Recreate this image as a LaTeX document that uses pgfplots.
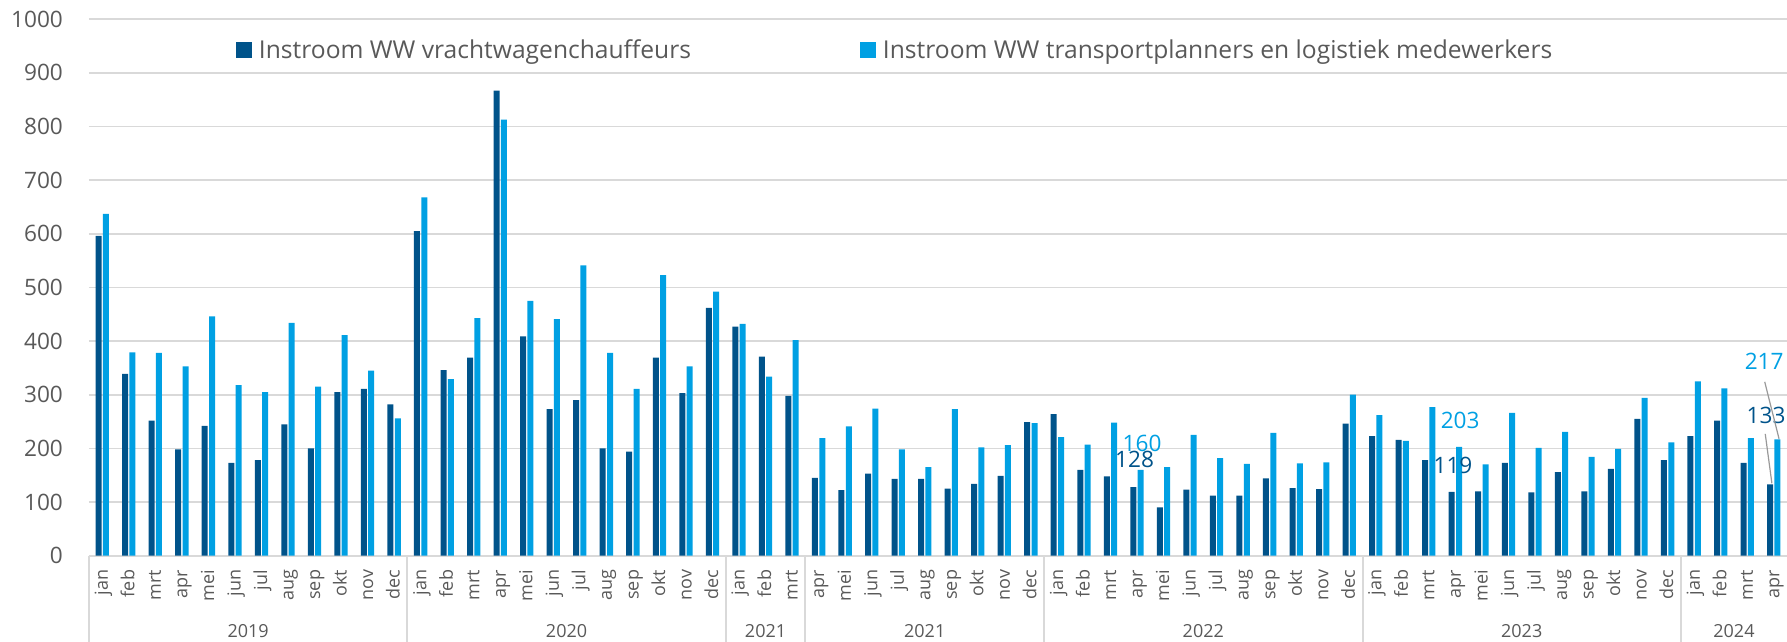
\documentclass[border=0pt]{standalone}
\usepackage{fontspec}
\setmainfont{Open Sans}
\usepackage{pgfplots}
\pgfplotsset{compat=1.18}
\definecolor{dblue}{RGB}{0,83,138}
\definecolor{lblue}{RGB}{0,160,227}
\definecolor{txt}{RGB}{89,89,89}
\definecolor{grd}{RGB}{217,217,217}
\newlength\legA
\newlength\legsep
\newcommand\legfont{\fontsize{12.3pt}{14pt}\selectfont}
\newcommand\numfont{\fontsize{11.3pt}{13pt}\selectfont}
\newcommand\catfont{\fontsize{9pt}{11pt}\selectfont}
\begin{document}
\settowidth\legA{\legfont Instroom WW vrachtwagenchauffeurs}%
\setlength\legsep{\dimexpr 312pt-11.5pt-\legA\relax}%
\begin{tikzpicture}
\begin{axis}[
  name=ax,
  width=849pt, height=268.25pt, scale only axis,
  xmin=-0.5, xmax=63.5, ymin=0, ymax=1000,
  ybar, bar width=3pt,
  clip=false,
  ytick={0,100,...,1000},
  xtick={0,...,63},
  xticklabels={jan,feb,mrt,apr,mei,jun,jul,aug,sep,okt,nov,dec,
               jan,feb,mrt,apr,mei,jun,jul,aug,sep,okt,nov,dec,
               jan,feb,mrt,
               apr,mei,jun,jul,aug,sep,okt,nov,dec,
               jan,feb,mrt,apr,mei,jun,jul,aug,sep,okt,nov,dec,
               jan,feb,mrt,apr,mei,jun,jul,aug,sep,okt,nov,dec,
               jan,feb,mrt,apr},
  /pgf/number format/assume math mode=true,
  /pgf/number format/1000 sep={},
  yticklabel style={font=\numfont, text=txt, inner sep=0pt, anchor=east},
  yticklabel shift=12.85pt,
  xticklabel style={font=\catfont, text=txt, inner sep=0pt, rotate=90, anchor=east, text height=1.4ex, text depth=0.35ex},
  xticklabel shift=6.9pt,
  major tick length=0pt,
  tick style={draw=none},
  axis x line*=bottom, axis y line*=left,
  y axis line style={draw=none},
  x axis line style={draw=grd, line width=1pt, -},
  ymajorgrids, grid style={draw=grd, line width=0.85pt},
  legend columns=2,
  legend style={at={(axis cs:5.04,942)}, anchor=west, draw=none, fill=none,
    inner sep=0pt, outer sep=0pt, font=\legfont, text=txt,
    nodes={inner sep=0pt},
    /tikz/every odd column/.append style={column sep=3.5pt},
    /tikz/every even column/.append style={column sep=\legsep}},
  legend image code/.code={\fill[#1,draw=none] (0pt,-4pt) rectangle (8pt,4pt);},
]
\addplot[fill=dblue, draw=none, bar shift=-1.83pt] coordinates {
(0,596) (1,339) (2,252) (3,198) (4,242) (5,173) (6,178) (7,245) (8,200) (9,305) (10,311) (11,282)
(12,605) (13,346) (14,369) (15,867) (16,409) (17,273) (18,290) (19,200) (20,194) (21,369) (22,303) (23,462)
(24,427) (25,371) (26,298)
(27,145) (28,122) (29,153) (30,143) (31,143) (32,125) (33,134) (34,149) (35,249)
(36,264) (37,160) (38,148) (39,128) (40,90) (41,123) (42,112) (43,112) (44,144) (45,126) (46,124) (47,246)
(48,223) (49,216) (50,178) (51,119) (52,120) (53,173) (54,118) (55,156) (56,120) (57,162) (58,255) (59,178)
(60,223) (61,252) (62,173) (63,133)
};
\addlegendentry{Instroom WW vrachtwagenchauffeurs}
\addplot[fill=lblue, draw=none, bar shift=1.83pt] coordinates {
(0,637) (1,379) (2,378) (3,353) (4,446) (5,318) (6,305) (7,434) (8,315) (9,411) (10,345) (11,256)
(12,668) (13,329) (14,443) (15,813) (16,475) (17,441) (18,541) (19,378) (20,311) (21,523) (22,353) (23,492)
(24,432) (25,334) (26,402)
(27,219) (28,241) (29,274) (30,198) (31,165) (32,273) (33,202) (34,206) (35,247)
(36,221) (37,207) (38,248) (39,160) (40,165) (41,225) (42,182) (43,171) (44,229) (45,172) (46,174) (47,300)
(48,262) (49,214) (50,277) (51,203) (52,170) (53,266) (54,201) (55,231) (56,184) (57,199) (58,294) (59,211)
(60,325) (61,312) (62,219) (63,217)
};
\addlegendentry{Instroom WW transportplanners en logistiek medewerkers}
% data labels
\node[text=lblue, font=\numfont, inner sep=0pt] at (axis cs:39.19,210) {160};
\node[text=dblue, font=\numfont, inner sep=0pt] at (axis cs:38.91,180) {128};
\node[text=lblue, font=\numfont, inner sep=0pt] at (axis cs:51.18,253) {203};
\node[text=dblue, font=\numfont, inner sep=0pt] at (axis cs:50.91,169) {119};
\node[text=lblue, font=\numfont, inner sep=0pt] at (axis cs:62.64,362) {217};
\node[text=dblue, font=\numfont, inner sep=0pt] at (axis cs:62.71,262) {133};
\draw[gray!80, line width=0.6pt] (axis cs:62.66,324) -- (axis cs:63.2,218);
\draw[gray!80, line width=0.6pt] (axis cs:62.68,227) -- (axis cs:62.93,135);
% category separators
\pgfplotsinvokeforeach{-0.5,11.5,23.5,26.5,35.5,47.5,59.5}{
  \draw[grd, line width=1pt] (axis cs:#1,0) -- ++(0pt,-43.15pt);
}
% year labels
\node[font=\catfont, text=txt, inner sep=0pt] at ([yshift=-37.65pt]axis cs:5.5,0) {2019};
\node[font=\catfont, text=txt, inner sep=0pt] at ([yshift=-37.65pt]axis cs:17.5,0) {2020};
\node[font=\catfont, text=txt, inner sep=0pt] at ([yshift=-37.65pt]axis cs:25,0) {2021};
\node[font=\catfont, text=txt, inner sep=0pt] at ([yshift=-37.65pt]axis cs:31,0) {2021};
\node[font=\catfont, text=txt, inner sep=0pt] at ([yshift=-37.65pt]axis cs:41.5,0) {2022};
\node[font=\catfont, text=txt, inner sep=0pt] at ([yshift=-37.65pt]axis cs:53.5,0) {2023};
\node[font=\catfont, text=txt, inner sep=0pt] at ([yshift=-37.65pt]axis cs:61.5,0) {2024};
\end{axis}
\pgfresetboundingbox
\path[use as bounding box] ([xshift=-44.5pt,yshift=-43.15pt]ax.south west) rectangle ([yshift=9.6pt]ax.north east);
\end{tikzpicture}
\end{document}
